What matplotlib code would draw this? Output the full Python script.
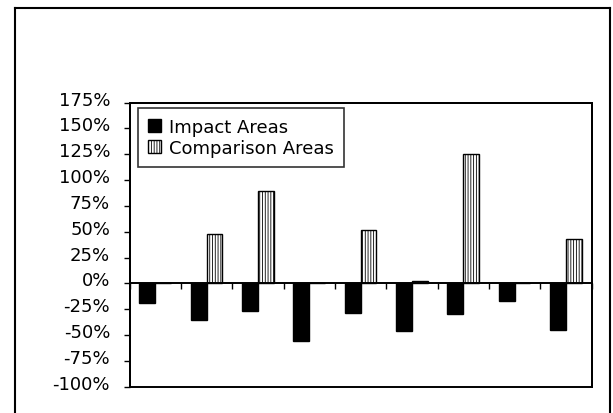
import numpy as np
import matplotlib
matplotlib.use('Agg')
import matplotlib.pyplot as plt
import matplotlib.transforms as mtransforms
from matplotlib.lines import Line2D

plt.rcParams['font.family'] = ['DejaVu Sans']
plt.rcParams['hatch.linewidth'] = 0.6

# percent change per area, nine sites
sites = list(range(9))
impact = [-19, -35, -27, -56, -29, -46, -30, -17, -45]
comparison = [0, 48, 89, 0, 52, 2, 125, 0, 43]
yticks = [-100, -75, -50, -25, 0, 25, 50, 75, 100, 125, 150, 175]
series_names = ['Impact Areas', 'Comparison Areas']

fig = plt.figure(figsize=(6.13, 4.14), dpi=100)
ax = fig.add_axes([0.2113, 0.0635, 0.7537, 0.6865])

x = np.array(sites)
w = 0.31
ax.bar(x - w / 2, impact, w, color='black', edgecolor='black', linewidth=1.0,
       label=series_names[0])
ax.bar(x + w / 2, comparison, w, color='white', edgecolor='black', linewidth=1.0,
       hatch='||||||', label=series_names[1])

ax.set_xlim(-0.5, 8.5)
ax.set_ylim(-100, 175)

# category axis crosses at zero, ticks between groups
ax.spines['bottom'].set_position(('data', 0))
ax.spines['bottom'].set_linewidth(1.4)
ax.set_xticks(np.arange(-0.5, 9.0, 1.0))
ax.set_xticklabels([])
ax.tick_params(axis='x', direction='out', length=4, width=1.0)

ax.set_yticks(yticks)
ax.set_yticklabels([f'{v}%' for v in yticks])
ax.tick_params(axis='y', direction='out', length=4, width=1.0, pad=10, labelsize=13)
shift = mtransforms.ScaledTranslation(0, 0.05, fig.dpi_scale_trans)
for lab in ax.get_yticklabels():
    lab.set_transform(lab.get_transform() + shift)

for side in ['left', 'right', 'top']:
    ax.spines[side].set_linewidth(1.4)
# plot area border (the bottom spine now sits on the zero line)
ax.add_patch(plt.Rectangle((0, 0), 1, 1, transform=ax.transAxes, fill=False,
                           edgecolor='black', linewidth=1.4, clip_on=False))

leg = ax.legend(loc='upper left', bbox_to_anchor=(0.018, 0.98), borderaxespad=0,
                fontsize=13, frameon=True, fancybox=False, edgecolor='black',
                handlelength=0.75, handleheight=0.75, handletextpad=0.45,
                labelspacing=0.15, borderpad=0.55)
leg.get_frame().set_linewidth(1.2)

# chart border
fx0, fx1, fy1 = 15 / 613, 609.5 / 613, 1 - 9 / 414
for xs, ys in [([fx0, fx0], [-0.05, fy1]), ([fx0, fx1], [fy1, fy1]),
               ([fx1, fx1], [fy1, -0.05])]:
    fig.add_artist(Line2D(xs, ys, transform=fig.transFigure, color='black', linewidth=1.5))

fig.savefig('out.png', dpi=100)
